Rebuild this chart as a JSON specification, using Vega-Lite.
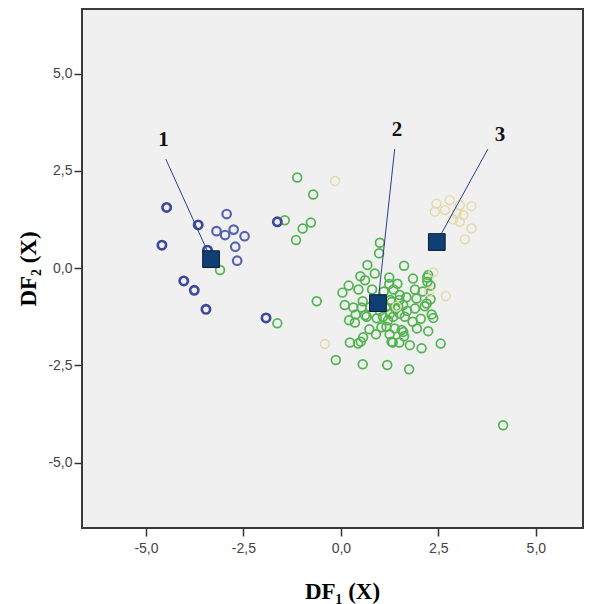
{
  "$schema": "https://vega.github.io/schema/vega-lite/v6.json",
  "width": 501,
  "height": 519,
  "autosize": "none",
  "padding": {"left": 82, "top": 9, "right": 6, "bottom": 76},
  "background": "white",
  "config": {
    "view": {"fill": "#f0f0f0", "stroke": "#3a3a3a", "strokeWidth": 2},
    "axis": {
      "grid": false, "domain": false,
      "tickColor": "#333333", "tickSize": 8, "tickWidth": 1.5,
      "labelFont": "Liberation Sans", "labelFontSize": 14, "labelColor": "#444444",
      "titleFont": "Liberation Serif", "titleFontWeight": "bold", "titleFontSize": 23, "titleColor": "#000000"
    }
  },
  "datasets": {
    "pts": [
      {"x": -4.47, "y": 1.56, "g": "1"}, {"x": -3.66, "y": 1.11, "g": "1"}, {"x": -4.59, "y": 0.59, "g": "1"},
      {"x": -3.42, "y": 0.46, "g": "1"}, {"x": -4.03, "y": -0.33, "g": "1"}, {"x": -3.76, "y": -0.57, "g": "1"},
      {"x": -3.46, "y": -1.06, "g": "1"}, {"x": -1.92, "y": -1.28, "g": "1"}, {"x": -1.63, "y": 1.19, "g": "1"},
      {"x": -2.93, "y": 1.39, "g": "1b"}, {"x": -3.19, "y": 0.95, "g": "1b"}, {"x": -2.97, "y": 0.85, "g": "1b"},
      {"x": -2.75, "y": 0.99, "g": "1b"}, {"x": -2.47, "y": 0.82, "g": "1b"}, {"x": -2.71, "y": 0.55, "g": "1b"},
      {"x": -2.66, "y": 0.19, "g": "1b"},
      {"x": -0.15, "y": 2.24, "g": "3"}, {"x": -0.41, "y": -1.95, "g": "3"}, {"x": 2.37, "y": -0.11, "g": "3"},
      {"x": 2.26, "y": -0.61, "g": "3"}, {"x": 2.69, "y": -0.72, "g": "3"}, {"x": 1.43, "y": -0.99, "g": "3"},
      {"x": 2.45, "y": 1.66, "g": "3"}, {"x": 2.79, "y": 1.75, "g": "3"}, {"x": 2.41, "y": 1.45, "g": "3"},
      {"x": 2.67, "y": 1.49, "g": "3"}, {"x": 3.05, "y": 1.62, "g": "3"}, {"x": 3.35, "y": 1.59, "g": "3"},
      {"x": 2.97, "y": 1.41, "g": "3"}, {"x": 3.14, "y": 1.36, "g": "3"}, {"x": 2.88, "y": 1.25, "g": "3"},
      {"x": 3.05, "y": 1.19, "g": "3"}, {"x": 3.35, "y": 1.02, "g": "3"}, {"x": 3.18, "y": 0.74, "g": "3"},
      {"x": -3.10, "y": -0.05, "g": "2"}, {"x": -1.63, "y": -1.42, "g": "2"}, {"x": -1.12, "y": 2.33, "g": "2"},
      {"x": -0.71, "y": 1.89, "g": "2"}, {"x": -1.44, "y": 1.23, "g": "2"}, {"x": -0.77, "y": 1.17, "g": "2"},
      {"x": -0.98, "y": 1.02, "g": "2"}, {"x": -1.15, "y": 0.72, "g": "2"}, {"x": -0.62, "y": -0.85, "g": "2"},
      {"x": -0.13, "y": -2.36, "g": "2"}, {"x": 4.16, "y": -4.04, "g": "2"},
      {"x": 1.0, "y": 0.65, "g": "2"}, {"x": 0.98, "y": 0.38, "g": "2"}, {"x": 0.68, "y": 0.08, "g": "2"},
      {"x": 1.62, "y": 0.06, "g": "2"}, {"x": 0.50, "y": -0.21, "g": "2"}, {"x": 0.62, "y": -0.31, "g": "2"},
      {"x": 1.24, "y": -0.24, "g": "2"}, {"x": 1.24, "y": -0.41, "g": "2"}, {"x": 1.85, "y": -0.27, "g": "2"},
      {"x": 2.21, "y": -0.24, "g": "2"}, {"x": 2.22, "y": -0.35, "g": "2"}, {"x": 2.24, "y": -0.18, "g": "2"},
      {"x": 0.87, "y": -0.14, "g": "2"}, {"x": 0.04, "y": -0.63, "g": "2"}, {"x": 0.10, "y": -0.95, "g": "2"},
      {"x": 0.32, "y": -1.01, "g": "2"}, {"x": 0.56, "y": -0.85, "g": "2"}, {"x": 0.38, "y": -1.19, "g": "2"},
      {"x": 0.21, "y": -1.34, "g": "2"}, {"x": 0.36, "y": -1.40, "g": "2"}, {"x": 0.66, "y": -1.25, "g": "2"},
      {"x": 0.92, "y": -1.29, "g": "2"}, {"x": 0.73, "y": -1.57, "g": "2"}, {"x": 1.04, "y": -1.52, "g": "2"},
      {"x": 1.21, "y": -1.34, "g": "2"}, {"x": 1.17, "y": -1.51, "g": "2"}, {"x": 1.34, "y": -1.25, "g": "2"},
      {"x": 1.51, "y": -1.17, "g": "2"}, {"x": 1.64, "y": -1.25, "g": "2"}, {"x": 1.50, "y": -0.82, "g": "2"},
      {"x": 1.27, "y": -0.82, "g": "2"}, {"x": 1.68, "y": -0.75, "g": "2"}, {"x": 1.94, "y": -0.78, "g": "2"},
      {"x": 1.90, "y": -1.04, "g": "2"}, {"x": 2.15, "y": -0.98, "g": "2"}, {"x": 2.33, "y": -1.19, "g": "2"},
      {"x": 2.37, "y": -1.28, "g": "2"}, {"x": 1.84, "y": -1.38, "g": "2"}, {"x": 1.56, "y": -1.59, "g": "2"},
      {"x": 1.62, "y": -1.75, "g": "2"}, {"x": 2.24, "y": -1.62, "g": "2"}, {"x": 0.23, "y": -1.91, "g": "2"},
      {"x": 0.51, "y": -1.89, "g": "2"}, {"x": 0.57, "y": -1.78, "g": "2"}, {"x": 1.33, "y": -1.91, "g": "2"},
      {"x": 1.50, "y": -1.91, "g": "2"}, {"x": 1.77, "y": -1.98, "g": "2"}, {"x": 2.07, "y": -2.06, "g": "2"},
      {"x": 2.56, "y": -1.94, "g": "2"}, {"x": 0.56, "y": -2.47, "g": "2"}, {"x": 1.19, "y": -2.49, "g": "2"},
      {"x": 1.75, "y": -2.60, "g": "2"}, {"x": 0.53, "y": -1.01, "g": "2"}, {"x": 1.51, "y": -0.69, "g": "2"},
      {"x": 2.20, "y": -0.91, "g": "2"}, {"x": 1.47, "y": -0.99, "g": "2"}, {"x": 1.26, "y": -1.17, "g": "2"},
      {"x": 1.38, "y": -1.55, "g": "2"}, {"x": 1.60, "y": -1.64, "g": "2"}, {"x": 1.30, "y": -0.87, "g": "2"},
      {"x": 1.08, "y": -1.25, "g": "2"}, {"x": 0.62, "y": -1.21, "g": "2"}, {"x": 0.44, "y": -1.94, "g": "2"},
      {"x": 1.30, "y": -1.89, "g": "2"}, {"x": 1.10, "y": -0.60, "g": "2"}, {"x": 1.35, "y": -0.55, "g": "2"},
      {"x": 1.45, "y": -0.40, "g": "2"}, {"x": 1.15, "y": -1.00, "g": "2"}, {"x": 1.40, "y": -1.05, "g": "2"},
      {"x": 1.60, "y": -0.95, "g": "2"}, {"x": 0.80, "y": -0.55, "g": "2"}, {"x": 0.75, "y": -1.00, "g": "2"},
      {"x": 1.00, "y": -1.10, "g": "2"}, {"x": 1.70, "y": -1.10, "g": "2"}, {"x": 1.90, "y": -0.55, "g": "2"},
      {"x": 2.10, "y": -0.60, "g": "2"}, {"x": 2.30, "y": -0.80, "g": "2"}, {"x": 0.90, "y": -1.70, "g": "2"},
      {"x": 1.25, "y": -1.70, "g": "2"}, {"x": 1.95, "y": -1.55, "g": "2"}, {"x": 2.05, "y": -1.30, "g": "2"},
      {"x": 0.45, "y": -0.55, "g": "2"}, {"x": 0.20, "y": -0.45, "g": "2"}, {"x": 2.30, "y": -0.45, "g": "2"}
    ],
    "cent": [
      {"x": -3.33, "y": 0.23, "lx": -4.49, "ly": 2.80, "tx": -4.55, "ty": 3.29, "label": "1"},
      {"x": 0.95, "y": -0.90, "lx": 1.38, "ly": 3.06, "tx": 1.44, "ty": 3.55, "label": "2"},
      {"x": 2.46, "y": 0.67, "lx": 3.77, "ly": 3.06, "tx": 4.08, "ty": 3.43, "label": "3"}
    ]
  },
  "layer": [
    {
      "mark": {"type": "rule", "color": "#333333", "strokeWidth": 1.5},
      "encoding": {"x": {"datum": 0, "type": "quantitative"}}
    },
    {
      "mark": {"type": "rule", "color": "#333333", "strokeWidth": 1.5},
      "encoding": {"y": {"datum": 0, "type": "quantitative"}}
    },
    {
      "data": {"name": "pts"},
      "transform": [{"calculate": "datum.g == '2' ? 0 : (datum.g == '3' ? 1 : 2)", "as": "ord"}],
      "mark": {"type": "point", "shape": "circle", "filled": false, "opacity": 1},
      "encoding": {
        "x": {
          "field": "x", "type": "quantitative",
          "scale": {"domain": [-6.64, 6.21], "nice": false, "zero": false},
          "axis": {
            "values": [-5, -2.5, 0, 2.5, 5],
            "labelExpr": "replace(replace(format(datum.value, '.1f'), '.', ','), '\u2212', '-')",
            "title": "DF₁ (X)", "titleX": 260, "titleY": 70, "titleBaseline": "alphabetic",
            "labelPadding": 5
          }
        },
        "y": {
          "field": "y", "type": "quantitative",
          "scale": {"domain": [-6.68, 6.66], "nice": false, "zero": false},
          "axis": {
            "values": [-5, -2.5, 0, 2.5, 5],
            "labelExpr": "replace(replace(format(datum.value, '.1f'), '.', ','), '\u2212', '-')",
            "title": "DF₂ (X)", "titleX": -47, "titleY": 259.5, "titleBaseline": "alphabetic", "titleAngle": -90,
            "labelPadding": 2
          }
        },
        "color": {
          "field": "g", "type": "nominal", "legend": null,
          "scale": {"domain": ["1", "1b", "2", "3"], "range": ["#3b489c", "#5662ad", "#52b450", "#e2d9a4"]}
        },
        "strokeWidth": {
          "field": "g", "type": "nominal", "legend": null,
          "scale": {"domain": ["1", "1b", "2", "3"], "range": [2.6, 1.3, 1.5, 1.5]}
        },
        "size": {
          "field": "g", "type": "nominal", "legend": null,
          "scale": {"domain": ["1", "1b", "2", "3"], "range": [70, 80, 85, 95]}
        },
        "order": {"field": "ord"}
      }
    },
    {
      "data": {"name": "cent"},
      "mark": {"type": "rule", "color": "#2a3f8f", "strokeWidth": 1},
      "encoding": {
        "x": {"field": "lx", "type": "quantitative"},
        "y": {"field": "ly", "type": "quantitative"},
        "x2": {"field": "x"},
        "y2": {"field": "y"}
      }
    },
    {
      "data": {"name": "cent"},
      "mark": {"type": "point", "shape": "square", "filled": true, "fill": "#0f3f75", "stroke": "#0a1a30", "strokeWidth": 1, "size": 280, "opacity": 1},
      "encoding": {
        "x": {"field": "x", "type": "quantitative"},
        "y": {"field": "y", "type": "quantitative"}
      }
    },
    {
      "data": {"name": "cent"},
      "mark": {"type": "text", "font": "Liberation Serif", "fontWeight": "bold", "fontSize": 21, "color": "#111111", "baseline": "middle", "align": "center"},
      "encoding": {
        "x": {"field": "tx", "type": "quantitative"},
        "y": {"field": "ty", "type": "quantitative"},
        "text": {"field": "label"}
      }
    }
  ]
}
